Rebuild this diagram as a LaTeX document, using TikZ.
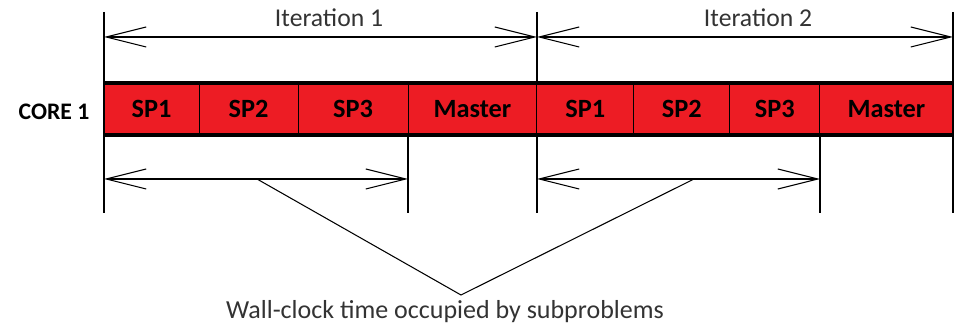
\documentclass[tikz,border=0pt]{standalone}
\usepackage{fontspec}
\setmainfont{Carlito}
\usetikzlibrary{arrows.meta}
\definecolor{barred}{HTML}{ED1C24}
\definecolor{labelgray}{HTML}{333333}

\tikzstyle{block} = [ draw,fill=barred,line width=0.5pt,minimum height=1.04cm,
                      inner sep=0pt,outer sep=0pt,anchor=west,
                      font=\fontsize{15}{17}\selectfont\bfseries]
\tikzstyle{dim}   = [ line width=0.6pt,
                      {Straight Barb[length=0.8cm,width=0.4cm]}-{Straight Barb[length=0.8cm,width=0.4cm]}]
\tikzstyle{label} = [ text=labelgray,font=\fontsize{14.6}{17}\selectfont,inner sep=0pt]

\begin{document}
\begin{tikzpicture}[x=0.02cm,y=-0.02cm]
  \useasboundingbox (0,0) rectangle (956,327);

  % guide lines
  \draw[line width=0.6pt] (104,12) -- (104,213);
  \draw[line width=0.6pt] (537,12) -- (537,213);
  \draw[line width=0.6pt] (953,12) -- (953,213);
  \draw[line width=0.6pt] (408,135) -- (408,213);
  \draw[line width=0.6pt] (820,135) -- (820,213);

  % core 1
  \node[font=\fontsize{13.5}{16}\selectfont\bfseries] at (54,112) (core) {CORE 1};
  \node[block,minimum width=1.90cm] at (104,109) (sp1a) {SP1};
  \node[block,minimum width=1.98cm] at (sp1a.east) (sp2a) {SP2};
  \node[block,minimum width=2.20cm] at (sp2a.east) (sp3a) {SP3};
  \node[block,minimum width=2.58cm] at (sp3a.east) (mastera) {Master};
  \node[block,minimum width=1.94cm] at (mastera.east) (sp1b) {SP1};
  \node[block,minimum width=1.92cm] at (sp1b.east) (sp2b) {SP2};
  \node[block,minimum width=1.80cm] at (sp2b.east) (sp3b) {SP3};
  \node[block,minimum width=2.66cm] at (sp3b.east) (masterb) {Master};
  \draw[line width=2pt] (sp1a.north west) -- (masterb.north east);
  \draw[line width=2pt] (sp1a.south west) -- (masterb.south east);

  % iterations
  \coordinate (it1l) at (104,37);
  \coordinate (it1r) at (537,37);
  \coordinate (it2r) at (953,37);
  \draw[dim] (it1l) -- (it1r);
  \draw[dim] (it1r) -- (it2r);
  \node[label] at (329,18) (it1) {Iteration 1};
  \node[label] at (758,18) (it2) {Iteration 2};

  % subproblem spans
  \coordinate (sub1l) at (104,179);
  \coordinate (sub1r) at (408,179);
  \coordinate (sub2l) at (537,179);
  \coordinate (sub2r) at (820,179);
  \draw[dim] (sub1l) -- (sub1r);
  \draw[dim] (sub2l) -- (sub2r);
  \coordinate (p1) at (257,179);
  \coordinate (p2) at (694,179);
  \coordinate (vtx) at (461,295);
  \draw[line width=0.6pt] (p1) -- (vtx) -- (p2);
  \node[label,font=\fontsize{14.8}{18}\selectfont] at (445,312) (wall) {Wall-clock time occupied by subproblems};
\end{tikzpicture}
\end{document}
